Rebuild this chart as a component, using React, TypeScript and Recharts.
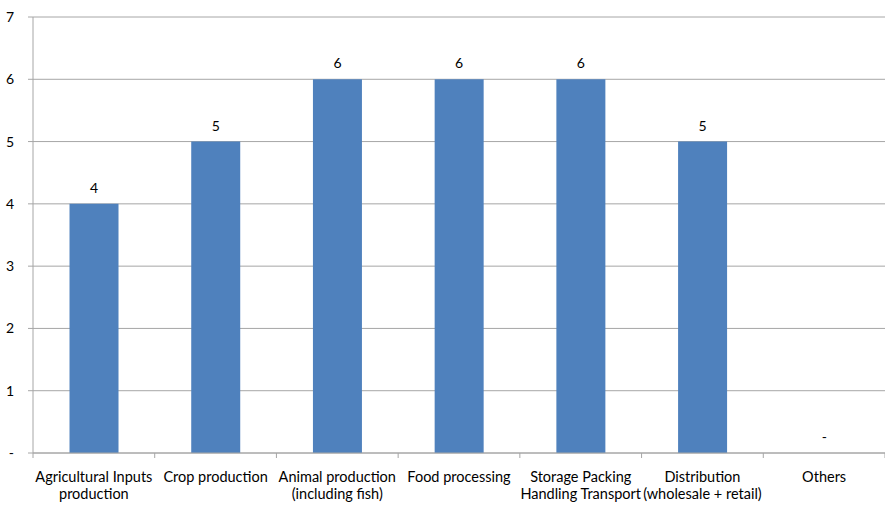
import { BarChart, Bar, XAxis, YAxis, CartesianGrid, Rectangle } from 'recharts';

const categories = [
  'Agricultural Inputs\nproduction',
  'Crop production',
  'Animal production\n(including fish)',
  'Food processing',
  'Storage Packing\nHandling Transport',
  'Distribution\n(wholesale + retail)',
  'Others',
];
const values = [4, 5, 6, 6, 6, 5, 0];
const yTicks = [0, 1, 2, 3, 4, 5, 6, 7];

const data = categories.map((name, i) => ({ name, value: values[i] }));

const W = 885;
const H = 505;
const AXIS_W = 33;
const BAND = (W - AXIS_W) / categories.length;
const FONT = 'Lato, "Open Sans", sans-serif';
const GRID = '#A6A6A6';
const TXT = '#000';

const fmt = (v: number) => (v === 0 ? '-' : String(v));

// category label, plus the tick marks that sit between categories
const CatTick = (props: any) => {
  const { x, y, payload, index } = props;
  const lines = String(payload.value).split('\n');
  const left = x - BAND / 2;
  return (
    <g>
      <line x1={left} y1={y - 8} x2={left} y2={y - 3} stroke={GRID} />
      {index === categories.length - 1 && (
        <line x1={x + BAND / 2} y1={y - 8} x2={x + BAND / 2} y2={y - 3} stroke={GRID} />
      )}
      <text x={x} y={y + 21} textAnchor="middle" fontSize={14.5} fontFamily={FONT} fill={TXT}>
        {lines.map((l, i) => (
          <tspan key={i} x={x} dy={i === 0 ? 0 : 17}>
            {l}
          </tspan>
        ))}
      </text>
    </g>
  );
};

// bar plus its value label, so the zero bar still gets its "-"
const BarWithLabel = (props: any) => {
  const { x, y, width, height, value, fill } = props;
  const v = Array.isArray(value) ? value[1] - value[0] : value;
  return (
    <g>
      {height > 0 && <Rectangle x={x} y={y} width={width} height={height} fill={fill} />}
      <text
        x={x + width / 2}
        y={y - 11}
        textAnchor="middle"
        fontSize={14}
        fontFamily={FONT}
        fill={TXT}
      >
        {fmt(Number(v))}
      </text>
    </g>
  );
};

export default function App() {
  return (
    <div style={{ position: 'absolute', left: 0, top: 0, background: '#fff' }}>
      <BarChart
        width={W}
        height={H}
        data={data}
        margin={{ top: 17, right: 0, left: 0, bottom: 2 }}
        barCategoryGap="30%"
      >
        <CartesianGrid vertical={false} stroke={GRID} />
        <XAxis
          dataKey="name"
          interval={0}
          height={50}
          stroke={GRID}
          tickLine={false}
          tick={<CatTick />}
        />
        <YAxis
          domain={[0, 7]}
          ticks={yTicks}
          width={AXIS_W}
          stroke={GRID}
          tickSize={5}
          tickMargin={14}
          tickFormatter={fmt}
          tick={{ fontSize: 14, fontFamily: FONT, fill: TXT }}
          interval={0}
        />
        <Bar
          dataKey="value"
          fill="#4F81BD"
          isAnimationActive={false}
          shape={<BarWithLabel />}
        />
      </BarChart>
    </div>
  );
}
